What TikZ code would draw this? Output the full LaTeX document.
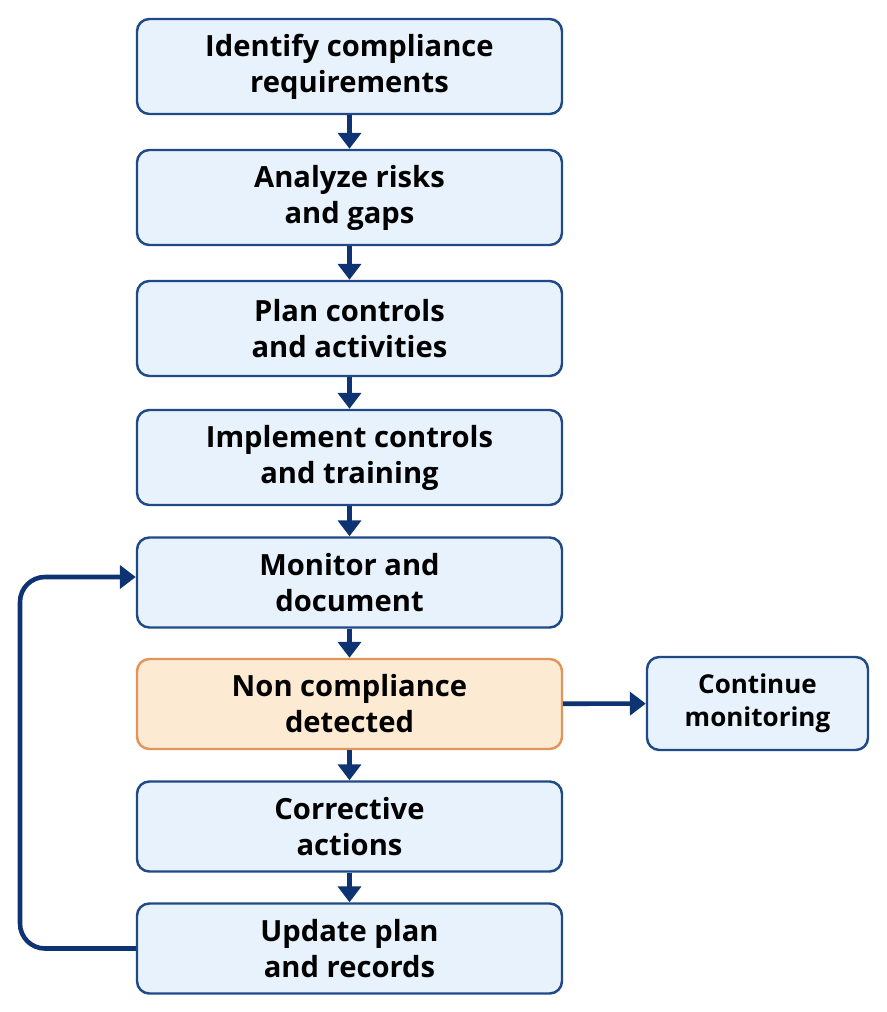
\documentclass[tikz,border=0pt]{standalone}
\usepackage{fontspec}
\setmainfont{Open Sans}
\usetikzlibrary{positioning,arrows.meta}

\definecolor{boxfill}{HTML}{E8F2FC}
\definecolor{boxline}{HTML}{1F4A86}
\definecolor{warnfill}{HTML}{FDEAD3}
\definecolor{warnline}{HTML}{E2955A}
\definecolor{arrcol}{HTML}{0E3372}

\begin{document}
\begin{tikzpicture}[
        stepbox/.style={rectangle, draw=boxline, line width=1.4pt, rounded corners=7pt,
            fill=boxfill, minimum width=8.5cm, minimum height=1.9cm,
            font=\fontsize{16.6}{20.5}\selectfont\bfseries, align=center},
        warnbox/.style={stepbox, draw=warnline, fill=warnfill, minimum height=1.8cm},
        sidebox/.style={stepbox, minimum width=4.42cm, minimum height=1.86cm,
            font=\fontsize{14.8}{18.7}\selectfont\bfseries},
        arr/.style={-{Triangle[length=9pt,width=13pt]}, line width=2.6pt, arrcol}
      ]
      \useasboundingbox (0,0) rectangle (17.72,-20.24);

      % Main chain — absolute coords, x=6.99
      \node[stepbox] at (6.99,  -1.33) (ident) {Identify compliance\\requirements};
      \node[stepbox] at (6.99,  -3.95) (anal)  {Analyze risks\\and gaps};
      \node[stepbox] at (6.99,  -6.57) (plan)  {Plan controls\\and activities};
      \node[stepbox] at (6.99,  -9.15) (impl)  {Implement controls\\and training};
      \node[stepbox, minimum height=1.8cm] at (6.99, -11.65) (mon) {Monitor and\\document};
      \node[warnbox] at (6.99, -14.08) (nonc)  {Non compliance\\detected};
      \node[stepbox, minimum height=1.8cm] at (6.99, -16.53) (corr) {Corrective\\actions};
      \node[stepbox, minimum height=1.8cm] at (6.99, -18.97) (upd)  {Update plan\\and records};

      % Side branch
      \node[sidebox] at (15.15, -14.07) (cont) {Continue\\monitoring};

      % Chain arrows
      \draw[arr] (ident) -- (anal);
      \draw[arr] (anal)  -- (plan);
      \draw[arr] (plan)  -- (impl);
      \draw[arr] (impl)  -- (mon);
      \draw[arr] (mon)   -- (nonc);
      \draw[arr] (nonc)  -- (corr);
      \draw[arr] (corr)  -- (upd);

      % Branch arrow
      \draw[arr] (nonc) -- (cont);

      % Feedback loop on the left, x=0.4
      \coordinate (loopb) at (0.4, -18.97);
      \coordinate (loopt) at (0.4, -11.54);
      \draw[arr, rounded corners=0.5cm] (upd.west) -- (loopb) -- (loopt)
          -- ([yshift=0.11cm]mon.west);
    \end{tikzpicture}
\end{document}
